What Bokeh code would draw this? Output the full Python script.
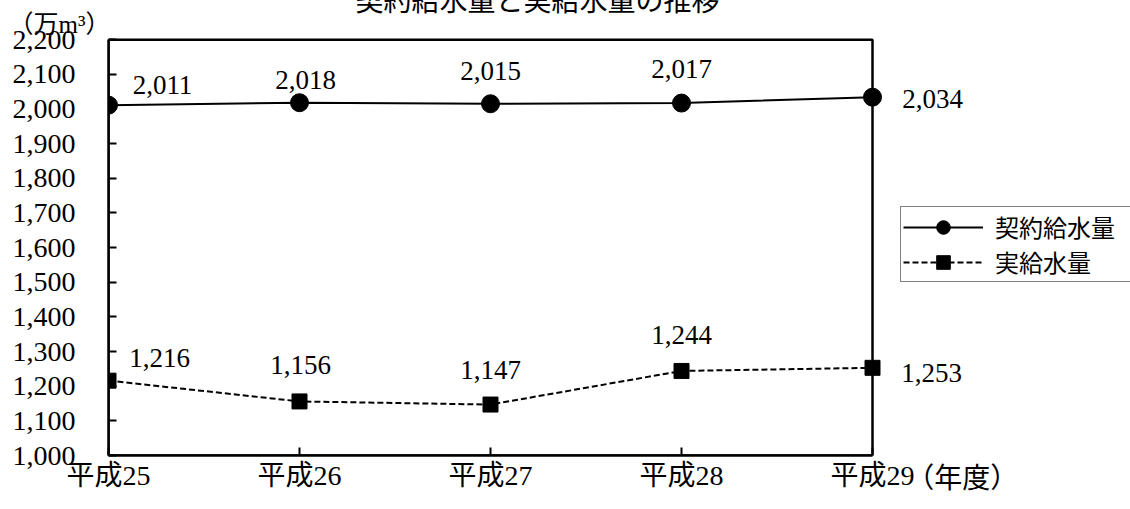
from bokeh.plotting import figure
from bokeh.models import (ColumnDataSource, LabelSet, Legend, LegendItem, Title,
                          FixedTicker, Range1d, NumeralTickFormatter, LinearAxis,
                          BoxAnnotation)
from bokeh.core.properties import value
from bokeh.embed import file_html
from bokeh.resources import INLINE

# ---- data ----
years = ["平成25", "平成26", "平成27", "平成28", "平成29"]
contract = [2011, 2018, 2015, 2017, 2034]   # 契約給水量
actual = [1216, 1156, 1147, 1244, 1253]     # 実給水量
y_ticks = list(range(1000, 2201, 100))
title_text = "契約給水量と実給水量の推移"
unit_text = "（万m³）"
x_suffix = "（年度）"
series_names = ["契約給水量", "実給水量"]

# ---- layout constants ----
suffix_pos = 4.47           # x position of the "(年度)" label, in category units
x_extra = 258 / 191         # room to the right of the last category (px / px per unit)
y_pad = 2 * 1200 / 390      # 2px of room above the box so its top edge is not clipped
c_dx = [54, 6, 0, 0, 60]
c_dy = [20, 23, 33, 34, -2]
a_dx = [51, 1, 0, 0, 59]
a_dy = [23, 36, 35, 36, -5]

FONT = "'Liberation Serif', 'Noto Sans CJK JP'"
FONT_V = value(FONT)

x = list(range(len(years)))
n = len(years) - 1

p = figure(width=1130, height=517, output_backend="svg", toolbar_location=None,
           x_range=Range1d(0, n + x_extra),
           y_range=Range1d(y_ticks[0], y_ticks[-1] + y_pad),
           min_border_left=108, min_border_right=0, min_border_top=0,
           min_border_bottom=54)
p.styles = {"margin-top": "-8px"}
p.background_fill_color = "white"
p.border_fill_color = "white"
p.outline_line_color = None
p.grid.visible = False

# the figure's own bottom axis (grab it before any other axis is added)
xa = p.below[0]

# empty spacer axis directly above the frame (no ticks, no labels)
p.add_layout(LinearAxis(ticker=FixedTicker(ticks=[]), axis_line_color=None,
                        major_tick_in=0, major_tick_out=25,
                        major_tick_line_alpha=0, minor_tick_in=0,
                        minor_tick_out=0, minor_tick_line_color=None,
                        major_label_standoff=0), "above")

# unit label, then the main title outermost
p.add_layout(Title(text=unit_text, align="left", offset=-100, standoff=0,
                   text_font=FONT, text_font_size="25px",
                   text_font_style="normal", text_color="black"), "above")
p.title.text = title_text
p.title.align = "left"
p.title.offset = 247
p.title.standoff = -17
p.title.text_font = FONT
p.title.text_font_size = "28px"
p.title.text_font_style = "normal"
p.title.text_color = "black"

# plot box
p.add_layout(BoxAnnotation(left=0, right=n, bottom=y_ticks[0], top=y_ticks[-1],
                           fill_alpha=0, line_color="black", line_alpha=1,
                           line_width=2.5))

# y axis
p.yaxis.ticker = FixedTicker(ticks=y_ticks)
p.yaxis.formatter = NumeralTickFormatter(format="0,0")
p.yaxis.bounds = (y_ticks[0], y_ticks[-1])
p.yaxis.axis_line_color = "black"
p.yaxis.axis_line_width = 2.5
p.yaxis.major_tick_in = 8
p.yaxis.major_tick_out = 0
p.yaxis.major_tick_line_width = 2
p.yaxis.minor_tick_line_color = None
p.yaxis.major_label_standoff = 33
p.yaxis.major_label_text_font = FONT
p.yaxis.major_label_text_font_size = "28px"
p.yaxis.major_label_text_color = "black"

# x axis with the category labels
xa.ticker = FixedTicker(ticks=x)
xa.major_label_overrides = {i: years[i] for i in x}
xa.bounds = (0, n)
xa.axis_line_color = "black"
xa.axis_line_width = 2.5
xa.major_tick_in = 8
xa.major_tick_out = 0
xa.major_tick_line_width = 2
xa.minor_tick_line_color = None
xa.major_label_standoff = 4
xa.major_label_text_font = FONT
xa.major_label_text_font_size = "28px"
xa.major_label_text_color = "black"

# second x axis carrying only the "(年度)" suffix, pulled up beside the last label
xb = LinearAxis(ticker=FixedTicker(ticks=[suffix_pos]),
                major_label_overrides={suffix_pos: x_suffix},
                axis_line_color=None, major_tick_line_color=None,
                minor_tick_line_color=None, major_label_standoff=-37,
                major_label_text_font=FONT, major_label_text_font_size="28px",
                major_label_text_color="black")
p.add_layout(xb, "below")

src_c = ColumnDataSource(dict(x=x, y=contract, t=[f"{v:,}" for v in contract],
                              dx=c_dx, dy=c_dy))
src_a = ColumnDataSource(dict(x=x, y=actual, t=[f"{v:,}" for v in actual],
                              dx=a_dx, dy=a_dy))

l1 = p.line("x", "y", source=src_c, line_color="black", line_width=2)
m1 = p.scatter("x", "y", source=src_c, marker="circle", size=18,
               fill_color="black", line_color="black")
l2 = p.line("x", "y", source=src_a, line_color="black", line_width=2,
            line_dash="6 3")
m2 = p.scatter("x", "y", source=src_a, marker="square", size=15,
               fill_color="black", line_color="black")

for src in (src_c, src_a):
    p.add_layout(LabelSet(x="x", y="y", text="t", source=src,
                          x_offset="dx", y_offset="dy",
                          text_align="center", text_baseline="middle",
                          text_font=FONT_V, text_font_size="27px",
                          text_color="black"))

legend = Legend(items=[LegendItem(label=series_names[0], renderers=[l1, m1]),
                       LegendItem(label=series_names[1], renderers=[l2, m2])],
                location=(792, 173), orientation="vertical",
                glyph_width=80, glyph_height=34, label_height=34,
                label_width=150, label_standoff=12, spacing=0, padding=2,
                margin=0, border_line_color="black", border_line_width=1,
                background_fill_color="white", background_fill_alpha=1,
                label_text_font=FONT, label_text_font_size="24px",
                label_text_color="black")
p.add_layout(legend, "center")

open("out.html", "w").write(file_html(p, INLINE))
